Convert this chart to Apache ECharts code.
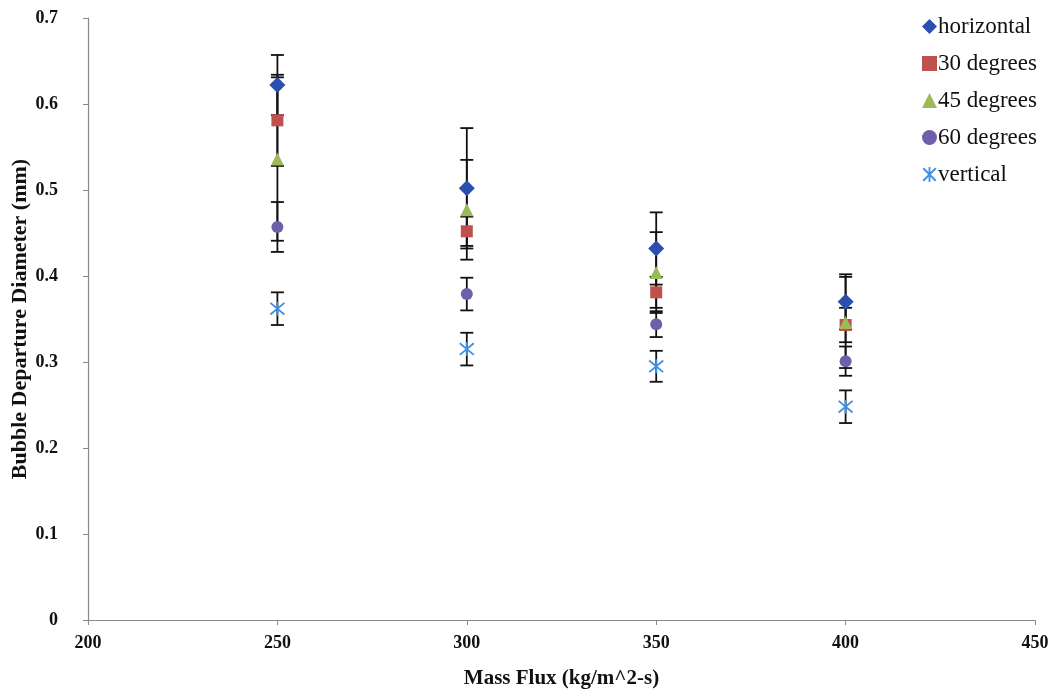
<!DOCTYPE html>
<html>
<head>
<meta charset="utf-8">
<script src="https://cdn.jsdelivr.net/npm/echarts@6/dist/echarts.min.js"></script>
<style>html,body{margin:0;padding:0;background:#fff}#c{width:1057px;height:694px}</style>
</head>
<body>
<div id="c"></div>
<script>
const massFlux = [250, 300, 350, 400];
const horizontal = [0.622, 0.502, 0.432, 0.370];
const horizontalErr = [0.035, 0.070, 0.042, 0.032];
const deg30 = [0.581, 0.452, 0.381, 0.343];
const deg30Err = [0.053, 0.017, 0.018, 0.020];
const deg45 = [0.536, 0.477, 0.404, 0.346];
const deg45Err = [0.095, 0.058, 0.047, 0.053];
const deg60 = [0.457, 0.379, 0.344, 0.301];
const deg60Err = [0.029, 0.019, 0.015, 0.017];
const vertical = [0.362, 0.315, 0.295, 0.248];
const verticalErr = [0.019, 0.019, 0.018, 0.019];
const seriesNames = ['horizontal', '30 degrees', '45 degrees', '60 degrees', 'vertical'];
const xTicks = [200, 250, 300, 350, 400, 450];
const yTicks = [0, 0.1, 0.2, 0.3, 0.4, 0.5, 0.6, 0.7];

const font = '"Liberation Serif", "Times New Roman", serif';
const starPath = 'path://M0,0L10,10M10,0L0,10M5,-1L5,11';

const defs = [
  {name: seriesNames[0], vals: horizontal, err: horizontalErr, color: '#2a4fae', symbol: 'diamond', size: 16},
  {name: seriesNames[1], vals: deg30, err: deg30Err, color: '#c0504d', symbol: 'rect', size: 12},
  {name: seriesNames[2], vals: deg45, err: deg45Err, color: '#9bbb59', symbol: 'triangle', size: 13},
  {name: seriesNames[3], vals: deg60, err: deg60Err, color: '#6f5fa8', symbol: 'circle', size: 12},
  {name: seriesNames[4], vals: vertical, err: verticalErr, color: '#3f8ee0', symbol: starPath, size: 14, star: true}
];

function styleFor(d) {
  return d.star ? {color: 'rgba(0,0,0,0)', borderColor: d.color, borderWidth: 1.8, opacity: 1}
                : {color: d.color, opacity: 1};
}

function renderErr(params, api) {
  const x = api.value(0), lo = api.value(1), hi = api.value(2);
  const p1 = api.coord([x, hi]), p2 = api.coord([x, lo]);
  const hw = 6.5;
  const st = {stroke: '#111', lineWidth: 1.8};
  return {type: 'group', children: [
    {type: 'line', shape: {x1: p1[0], y1: p1[1], x2: p2[0], y2: p2[1]}, style: st},
    {type: 'line', shape: {x1: p1[0] - hw, y1: p1[1], x2: p1[0] + hw, y2: p1[1]}, style: st},
    {type: 'line', shape: {x1: p2[0] - hw, y1: p2[1], x2: p2[0] + hw, y2: p2[1]}, style: st}
  ]};
}

const series = [];
defs.forEach(d => {
  series.push({
    type: 'custom', name: d.name + ' err', renderItem: renderErr, z: 1,
    encode: {x: 0, y: [1, 2]},
    data: massFlux.map((x, i) => [x, d.vals[i] - d.err[i], d.vals[i] + d.err[i]]),
    silent: true
  });
});
defs.forEach(d => {
  series.push({
    type: 'scatter', name: d.name, z: 5,
    symbol: d.symbol, symbolSize: d.size,
    itemStyle: styleFor(d),
    data: massFlux.map((x, i) => [x, d.vals[i]])
  });
});

const chart = echarts.init(document.getElementById('c'));
chart.setOption({
  animation: false,
  backgroundColor: '#fff',
  grid: {left: 88, right: 22, top: 18, bottom: 74, containLabel: false, outerBoundsMode: 'none'},
  legend: {
    orient: 'vertical', left: 917, top: 10, itemGap: 14,
    itemWidth: 15, itemHeight: 15,
    data: defs.map(d => ({name: d.name, icon: d.symbol, itemStyle: styleFor(d)})),
    textStyle: {fontFamily: font, fontSize: 23, color: '#111', padding: [0, 0, 0, -4]}
  },
  xAxis: {
    type: 'value', min: xTicks[0], max: xTicks[xTicks.length - 1], interval: 50,
    name: 'Mass Flux (kg/m^2-s)', nameLocation: 'middle', nameGap: 48, nameMoveOverlap: false,
    nameTextStyle: {fontFamily: font, fontSize: 21, fontWeight: 'bold', color: '#111'},
    axisLine: {show: true, lineStyle: {color: '#888', width: 1.2}},
    axisTick: {show: true, length: 5, lineStyle: {color: '#888'}},
    axisLabel: {fontFamily: font, fontSize: 18, fontWeight: 'bold', color: '#111', margin: 14},
    splitLine: {show: false}
  },
  yAxis: {
    type: 'value', min: yTicks[0], max: yTicks[yTicks.length - 1], interval: 0.1,
    name: 'Bubble Departure Diameter (mm)', nameLocation: 'middle', nameGap: 57, nameRotate: 90,
    nameMoveOverlap: false,
    nameTextStyle: {fontFamily: font, fontSize: 22, fontWeight: 'bold', color: '#111'},
    axisLine: {show: true, lineStyle: {color: '#888', width: 1.2}},
    axisTick: {show: true, length: 5, lineStyle: {color: '#888'}},
    axisLabel: {fontFamily: font, fontSize: 18, fontWeight: 'bold', color: '#111', margin: 30,
      formatter: v => (Math.round(v * 10) / 10).toString()},
    splitLine: {show: false}
  },
  series: series
});
</script>
</body>
</html>
